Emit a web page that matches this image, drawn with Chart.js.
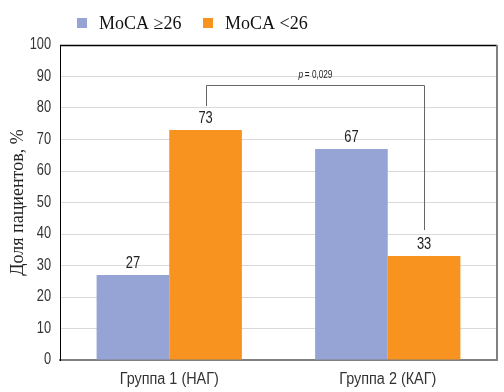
<!DOCTYPE html>
<html>
<head>
<meta charset="utf-8">
<script src="https://cdn.jsdelivr.net/npm/chart.js@4.4.1/dist/chart.umd.min.js"></script>
<style>
  html, body { margin: 0; padding: 0; background: #fff; }
  #wrap { width: 504px; height: 392px; position: relative; }
</style>
</head>
<body>
<div id="wrap"><canvas id="moca"></canvas></div>
<script>
// данные
const groups = ['Группа 1 (НАГ)', 'Группа 2 (КАГ)'];
const seriesNames = ['MoCA ≥26', 'MoCA <26'];
const mocaHigh = [27, 67];
const mocaLow = [73, 33];
const yTicks = [0, 10, 20, 30, 40, 50, 60, 70, 80, 90, 100];
const pLabel = '= 0,029';

const blue = '#96A3D5';
const orange = '#F7931E';
const sans = "'Liberation Sans', Arial, sans-serif";
const serif = "'Liberation Serif', 'Times New Roman', serif";

// узкий шрифт (как Arial Narrow) — сжимаем по горизонтали
function narrowText(c, text, x, y, align, k) {
    c.save();
    c.translate(x, y);
    c.scale(k || 0.82, 1);
    c.textAlign = align;
    c.fillText(text, 0, 0);
    c.restore();
}

// подписи осей и значений, рамка, скобка p и легенда
const extras = {
    id: 'extras',
    afterDatasetsDraw(chart) {
        const c = chart.ctx;
        const area = chart.chartArea;
        const ys = chart.scales.y;
        const xs = chart.scales.x;
        c.save();
        c.textBaseline = 'middle';

        // метки оси Y
        c.fillStyle = '#333';
        c.font = '16px ' + sans;
        yTicks.forEach(v => narrowText(c, String(v), area.left - 9, ys.getPixelForValue(v), 'right', 0.8));

        // категории
        c.font = '16px ' + sans;
        groups.forEach((g, i) => narrowText(c, g, xs.getPixelForValue(i), area.bottom + 20, 'center', 0.9));

        // значения над столбцами
        c.fillStyle = '#222';
        c.font = '17px ' + sans;
        chart.data.datasets.forEach((ds, i) => {
            chart.getDatasetMeta(i).data.forEach((bar, j) => {
                narrowText(c, String(ds.data[j]), bar.x, bar.y - 12, 'center', 0.76);
            });
        });

        // верхняя и правая границы
        c.strokeStyle = '#000';
        c.lineWidth = 1.5;
        c.beginPath();
        c.moveTo(area.left, area.top + 0.5);
        c.lineTo(area.right, area.top + 0.5);
        c.stroke();
        c.strokeStyle = '#808080';
        c.lineWidth = 2;
        c.beginPath();
        c.moveTo(area.right, area.top);
        c.lineTo(area.right, area.bottom);
        c.stroke();

        // скобка p
        const low = chart.getDatasetMeta(1).data;
        const topY = Math.round(ys.getPixelForValue(87.3)) + 0.5;
        c.strokeStyle = '#666';
        c.lineWidth = 1;
        c.beginPath();
        c.moveTo(Math.round(low[0].x) + 0.5, low[0].y - 24);
        c.lineTo(Math.round(low[0].x) + 0.5, topY);
        c.lineTo(Math.round(low[1].x) + 0.5, topY);
        c.lineTo(Math.round(low[1].x) + 0.5, low[1].y - 26);
        c.stroke();
        c.fillStyle = '#222';
        const midX = (low[0].x + low[1].x) / 2;
        c.font = 'italic 10px ' + sans;
        narrowText(c, 'p', midX - 14, topY - 10, 'center');
        c.font = '10px ' + sans;
        narrowText(c, pLabel, midX - 10, topY - 10, 'left');

        // легенда
        const colors = [blue, orange];
        const legendX = [77, 203];
        c.font = '18px ' + serif;
        c.textAlign = 'left';
        seriesNames.forEach((name, i) => {
            c.fillStyle = colors[i];
            c.fillRect(legendX[i], 18, 10, 10);
            c.fillStyle = '#111';
            c.fillText(name, legendX[i] + 22, 24);
        });

        c.restore();
    }
};

const ctx = document.getElementById('moca').getContext('2d');
new Chart(ctx, {
    type: 'bar',
    data: {
        labels: groups,
        datasets: [
            { label: seriesNames[0], data: mocaHigh, backgroundColor: blue },
            { label: seriesNames[1], data: mocaLow, backgroundColor: orange }
        ]
    },
    options: {
        responsive: true,
        maintainAspectRatio: false,
        animation: false,
        layout: { padding: { top: 45, right: 7, left: 0, bottom: 0 } },
        datasets: { bar: { categoryPercentage: 0.665, barPercentage: 1 } },
        plugins: {
            legend: { display: false },
            tooltip: { enabled: false }
        },
        scales: {
            x: {
                grid: { display: false, drawTicks: false },
                border: { color: '#808080', width: 2 },
                ticks: { display: false },
                afterFit: (s) => { s.height = 32; }
            },
            y: {
                min: 0,
                max: 100,
                afterBuildTicks: (s) => { s.ticks = yTicks.map(v => ({ value: v })); },
                grid: { color: '#DADADA', drawTicks: false },
                border: { color: '#000', width: 1 },
                ticks: { display: false },
                title: {
                    display: true,
                    text: 'Доля пациентов, %',
                    color: '#222',
                    font: { size: 18, family: serif },
                    padding: { top: 7, bottom: 0 }
                },
                afterFit: (s) => { s.width = 60; }
            }
        }
    },
    plugins: [extras]
});
</script>
</body>
</html>
